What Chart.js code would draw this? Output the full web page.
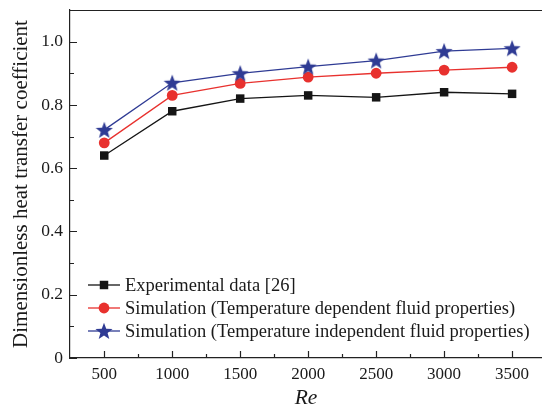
<!DOCTYPE html>
<html>
<head>
<meta charset="utf-8">
<script src="https://cdn.jsdelivr.net/npm/chart.js@4/dist/chart.umd.min.js"></script>
<style>
  html, body { margin: 0; padding: 0; background: #fff; overflow: hidden; }
  #wrap { width: 542px; height: 407px; }
</style>
</head>
<body>
<div id="wrap"><canvas id="chart" width="542" height="407"></canvas></div>
<script>
// Reynolds numbers and heat transfer coefficients
const reValues = [500, 1000, 1500, 2000, 2500, 3000, 3500];
const experimental = [0.64, 0.78, 0.82, 0.83, 0.824, 0.84, 0.835];
const simDependent = [0.68, 0.83, 0.868, 0.888, 0.90, 0.91, 0.919];
const simIndependent = [0.721, 0.87, 0.90, 0.921, 0.94, 0.97, 0.979];

const seriesLabels = [
    'Experimental data [26]',
    'Simulation (Temperature dependent fluid properties)',
    'Simulation (Temperature independent fluid properties)'
];

const xTicks = [500, 1000, 1500, 2000, 2500, 3000, 3500];
const xMinorTicks = [750, 1250, 1750, 2250, 2750, 3250];
const yTicks = [0, 0.2, 0.4, 0.6, 0.8, 1.0];
const yMinorTicks = [0.1, 0.3, 0.5, 0.7, 0.9];

const fontFamily = '"Liberation Serif", "Times New Roman", serif';
const black = '#151515';
const red = '#e8312e';
const blue = '#2f3b94';

// five point star marker, drawn once on a small canvas
function makeStar(size, color) {
    const c = document.createElement('canvas');
    c.width = size;
    c.height = size;
    const ctx = c.getContext('2d');
    const cx = size / 2, cy = size / 2 + 0.8;
    const outer = size / 2, inner = outer * 0.42;
    ctx.beginPath();
    for (let i = 0; i < 10; i++) {
        const r = i % 2 === 0 ? outer : inner;
        const a = -Math.PI / 2 + i * Math.PI / 5;
        const px = cx + r * Math.cos(a), py = cy + r * Math.sin(a);
        if (i === 0) ctx.moveTo(px, py); else ctx.lineTo(px, py);
    }
    ctx.closePath();
    ctx.fillStyle = color;
    ctx.fill();
    return c;
}
const starIcon = makeStar(18, blue);

const datasets = [
    {
        label: seriesLabels[0],
        data: reValues.map((r, i) => ({ x: r, y: experimental[i] })),
        borderColor: black,
        backgroundColor: black,
        pointBackgroundColor: black,
        pointBorderWidth: 0,
        pointStyle: 'rect',
        pointRadius: 6,
        borderWidth: 1.3,
        order: 3
    },
    {
        label: seriesLabels[1],
        data: reValues.map((r, i) => ({ x: r, y: simDependent[i] })),
        borderColor: red,
        backgroundColor: red,
        pointBackgroundColor: red,
        pointBorderWidth: 0,
        pointStyle: 'circle',
        pointRadius: 5.4,
        borderWidth: 1.3,
        order: 2
    },
    {
        label: seriesLabels[2],
        data: reValues.map((r, i) => ({ x: r, y: simIndependent[i] })),
        borderColor: blue,
        backgroundColor: blue,
        pointBackgroundColor: blue,
        pointBorderWidth: 0,
        pointStyle: starIcon,
        pointRadius: 8,
        borderWidth: 1.3,
        order: 1
    }
];

// inward ticks, top frame line and in-plot legend
const framePlugin = {
    id: 'frame',
    afterDraw(chart) {
        const ctx = chart.ctx;
        const area = chart.chartArea;
        const x = chart.scales.x, y = chart.scales.y;
        ctx.save();
        ctx.strokeStyle = '#222';
        ctx.lineWidth = 1.2;
        ctx.beginPath();
        ctx.moveTo(area.left, area.top + 0.5);
        ctx.lineTo(chart.width, area.top + 0.5);
        xTicks.forEach(v => {
            const px = Math.round(x.getPixelForValue(v)) + 0.5;
            ctx.moveTo(px, area.bottom);
            ctx.lineTo(px, area.bottom - 7);
        });
        xMinorTicks.forEach(v => {
            const px = Math.round(x.getPixelForValue(v)) + 0.5;
            ctx.moveTo(px, area.bottom);
            ctx.lineTo(px, area.bottom - 4);
        });
        yTicks.forEach(v => {
            const py = Math.round(y.getPixelForValue(v)) + 0.5;
            ctx.moveTo(area.left, py);
            ctx.lineTo(area.left + 7, py);
        });
        yMinorTicks.forEach(v => {
            const py = Math.round(y.getPixelForValue(v)) + 0.5;
            ctx.moveTo(area.left, py);
            ctx.lineTo(area.left + 4, py);
        });
        ctx.stroke();

        // legend rows
        const rowY = [285, 308, 331];
        datasets.forEach((ds, i) => {
            const ly = rowY[i];
            ctx.strokeStyle = ds.borderColor;
            ctx.lineWidth = 1.3;
            ctx.beginPath();
            ctx.moveTo(88, ly);
            ctx.lineTo(120, ly);
            ctx.stroke();
            ctx.fillStyle = ds.pointBackgroundColor;
            ctx.strokeStyle = ds.pointBackgroundColor;
            Chart.helpers.drawPoint(ctx, {
                pointStyle: ds.pointStyle,
                radius: ds.pointRadius,
                borderWidth: 0,
                rotation: 0
            }, 104, ly);
            ctx.fillStyle = '#1a1a1a';
            ctx.font = '18.5px ' + fontFamily;
            ctx.textBaseline = 'middle';
            ctx.textAlign = 'left';
            ctx.fillText(ds.label, 125, ly + 1);
        });
        ctx.restore();
    }
};

new Chart(document.getElementById('chart'), {
    type: 'line',
    data: { datasets: datasets },
    options: {
        responsive: false,
        animation: false,
        layout: { autoPadding: false, padding: { top: 10, right: 0, left: 0, bottom: 0 } },
        plugins: {
            legend: { display: false },
            tooltip: { enabled: false }
        },
        scales: {
            x: {
                type: 'linear',
                min: 248,
                max: 3720,
                afterBuildTicks: (scale) => { scale.ticks = xTicks.map(v => ({ value: v })); },
                afterFit: (scale) => {
                    scale.height = 49;
                    scale.paddingLeft = 0;
                    scale.paddingRight = 0;
                },
                grid: { display: false, drawTicks: false },
                border: { display: true, color: '#222', width: 1.2 },
                ticks: {
                    color: '#1a1a1a',
                    font: { family: fontFamily, size: 17 },
                    padding: 6,
                    maxRotation: 0,
                    autoSkip: false,
                    callback: (v) => String(v)
                },
                title: {
                    display: true,
                    text: 'Re',
                    color: '#1a1a1a',
                    font: { family: fontFamily, size: 21.5, style: 'italic' },
                    padding: { top: 0, bottom: -4 }
                }
            },
            y: {
                min: 0,
                max: 1.1,
                afterBuildTicks: (scale) => { scale.ticks = yTicks.map(v => ({ value: v })); },
                afterFit: (scale) => {
                    scale.width = 70;
                    scale.paddingTop = 0;
                    scale.paddingBottom = 0;
                },
                grid: { display: false, drawTicks: false },
                border: { display: true, color: '#222', width: 1.2 },
                ticks: {
                    color: '#1a1a1a',
                    font: { family: fontFamily, size: 17.5 },
                    padding: 7,
                    callback: (v) => v === 0 ? '0' : v.toFixed(1)
                },
                title: {
                    display: true,
                    text: 'Dimensionless heat transfer coefficient',
                    color: '#1a1a1a',
                    font: { family: fontFamily, size: 21 },
                    padding: { top: 9, bottom: 0 }
                }
            }
        }
    },
    plugins: [framePlugin]
});
</script>
</body>
</html>
